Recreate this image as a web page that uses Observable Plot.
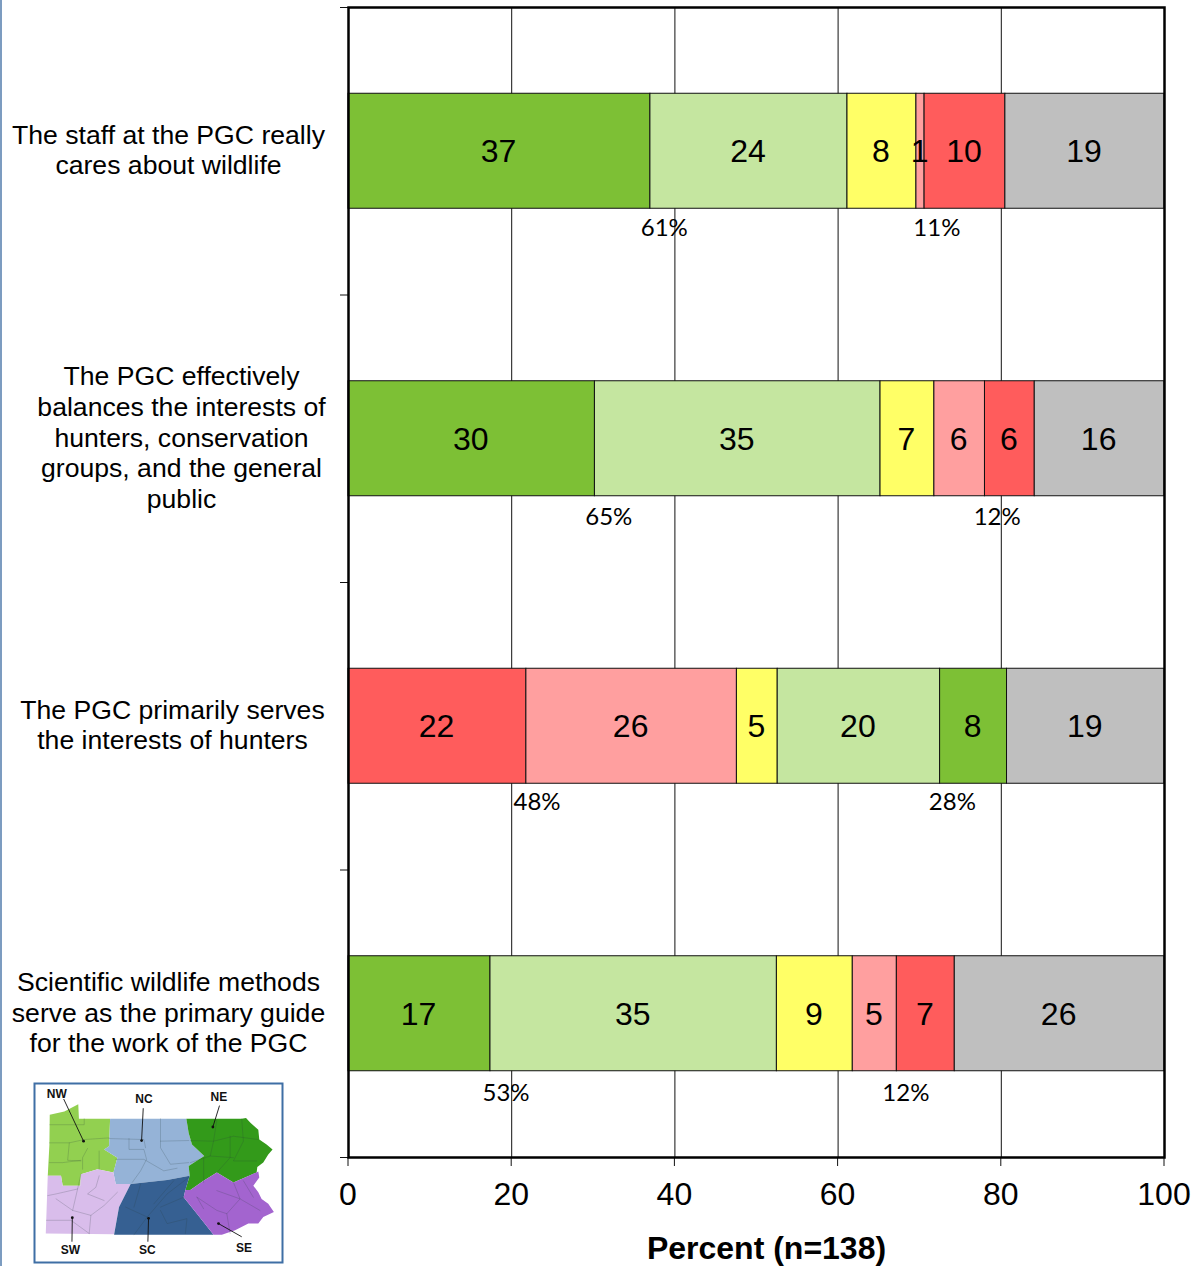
<!DOCTYPE html>
<html>
<head>
<meta charset="utf-8">
<script src="https://cdn.jsdelivr.net/npm/d3@7"></script>
<script src="https://cdn.jsdelivr.net/npm/@observablehq/plot@0.6"></script>
<style>
html,body{margin:0;padding:0;background:#fff;}
#strip{position:absolute;left:0;top:0;width:2px;height:1266px;background:#7c9cc0;}
#chart{position:absolute;left:0;top:0;}
#map{position:absolute;left:32px;top:1081px;}
svg{display:block;}
</style>
</head>
<body>
<div id="strip"></div>
<div id="chart"></div>
<div id="map"></div>
<script>
const statements = [
  "The staff at the PGC really\ncares about wildlife",
  "The PGC effectively\nbalances the interests of\nhunters, conservation\ngroups, and the general\npublic",
  "The PGC primarily serves\nthe interests of hunters",
  "Scientific wildlife methods\nserve as the primary guide\nfor the work of the PGC"
];
const statementShift = [-180, -167, -176, -180];

const responses = ["strongAgree","agree","neither","disagree","strongDisagree","unsure"];
const responseColors = ["#7dc035","#c5e6a0","#ffff66","#ff9f9f","#ff5c5c","#bfbfbf"];

const orderStaff = ["strongAgree","agree","neither","disagree","strongDisagree","unsure"];
const orderBalances = ["strongAgree","agree","neither","disagree","strongDisagree","unsure"];
const orderHunters = ["strongDisagree","disagree","neither","agree","strongAgree","unsure"];
const orderScience = ["strongAgree","agree","neither","disagree","strongDisagree","unsure"];

const widthsStaff = [37, 24.15, 8.45, 1, 9.9, 19.5];
const widthsBalances = [30.2, 35, 6.6, 6.2, 6.1, 15.9];
const widthsHunters = [21.8, 25.8, 5, 19.9, 8.2, 19.3];
const widthsScience = [17.4, 35.1, 9.3, 5.4, 7.1, 25.7];

const labelsStaff = [37, 24, 8, 1, 10, 19];
const labelsBalances = [30, 35, 7, 6, 6, 16];
const labelsHunters = [22, 26, 5, 20, 8, 19];
const labelsScience = [17, 35, 9, 5, 7, 26];

const summaryText = ["61%","11%","65%","12%","48%","28%","53%","12%"];
const summaryX = [38.7, 72.1, 31.9, 79.5, 23.1, 74, 19.3, 68.3];
const summaryY = [0.769, 0.769, 1.774, 1.774, 2.765, 2.765, 3.777, 3.777];

const xTicks = [0,20,40,60,80,100];
const gridValues = [20,40,60,80];
const yBoundaries = [0,1,2,3,4];
const xTitle = "Percent (n=138)";

// Inset map of Pennsylvania regions
const regionNames = ["NW","NC","NE","SW","SC","SE"];
const regionColors = ["#92d050","#95b3d7","#339a1a","#d9bdeb","#366092","#a364cf"];
const outlineNW = [[146,160],[190,150],[232,128],[234,172],[328,172],[325,255],[310,265],[350,290],[338,335],[290,325],[240,340],[238,375],[185,375],[180,345],[140,345],[145,250]];
const outlineNC = [[328,172],[558,172],[565,215],[575,250],[612,285],[565,315],[568,345],[500,358],[390,370],[345,370],[338,335],[350,290],[310,265],[325,255]];
const outlineNE = [[558,172],[725,172],[738,170],[752,185],[775,205],[778,235],[800,250],[818,265],[805,280],[790,305],[772,318],[770,335],[735,350],[700,365],[650,335],[610,360],[570,388],[555,388],[568,345],[565,315],[612,285],[575,250],[565,215]];
const outlineSW = [[140,345],[180,345],[185,375],[238,375],[240,340],[290,325],[338,335],[345,370],[390,370],[355,440],[340,522],[134,520]];
const outlineSC = [[390,370],[500,358],[568,345],[555,388],[550,410],[590,460],[640,524],[340,524],[355,440]];
const outlineSE = [[555,388],[570,388],[610,360],[650,335],[700,365],[735,350],[775,332],[778,350],[760,375],[775,395],[785,415],[805,430],[822,455],[790,470],[775,490],[745,490],[705,510],[665,524],[640,524],[590,460],[550,410]];
const outlines = [outlineNW,outlineNC,outlineNE,outlineSW,outlineSC,outlineSE];

const countyLines = [
  [[146,190],[250,190],[250,172]],[[145,245],[205,245],[250,235],[325,230]],[[205,245],[200,298],[240,300]],
  [[145,305],[185,305],[240,298]],[[260,262],[245,290],[245,325]],[[295,270],[295,325]],
  [[385,232],[385,265],[430,265],[438,295],[420,330],[395,365]],[[325,232],[430,235],[435,260]],[[480,172],[480,260],[510,310],[565,305]],[[480,240],[565,238]],[[345,295],[430,295],[490,330],[530,322]],
  [[570,238],[640,240],[700,225],[775,235]],[[650,175],[640,240],[630,285],[570,305]],[[725,172],[730,240],[700,300],[770,300]],[[630,285],[700,290]],[[610,290],[610,365]],[[690,225],[690,290],[650,335]],
  [[140,405],[165,400],[230,385],[240,340]],[[165,415],[215,450],[230,385]],[[215,450],[270,465],[310,435],[350,395]],[[136,480],[210,480],[265,520]],[[295,345],[285,380],[260,400],[310,420]],[[270,465],[265,520]],
  [[375,440],[440,470],[500,400],[565,350]],[[440,470],[400,524]],[[480,440],[550,410]],[[480,450],[500,490],[560,475],[555,520]],[[420,370],[400,440]],[[460,430],[520,360]],
  [[590,410],[650,450],[680,460],[690,520]],[[650,390],[720,415],[680,460]],[[590,410],[610,445]],[[700,365],[720,415],[780,450]],[[730,360],[760,410]]
];
const mapLabelNames = ["NW","NC","NE","SW","SC","SE"];
const mapLabelX = [167,430,656,208,440,732];
const mapLabelY = [97,113,106,572,572,563];
const leaderFromX = [188,428,658,213,442,725];
const leaderFromY = [112,140,132,545,545,530];
const leaderToX = [248,423,638,214,444,655];
const leaderToY = [240,238,197,472,474,490];

// Tables built from the arrays above
const questionOrders = [orderStaff,orderBalances,orderHunters,orderScience];
const questionWidths = [widthsStaff,widthsBalances,widthsHunters,widthsScience];
const questionLabels = [labelsStaff,labelsBalances,labelsHunters,labelsScience];
const segments = questionWidths.flatMap((widths,q)=>{
  const ends = d3.cumsum(widths);
  return widths.map((w,i)=>({
    response: questionOrders[q][i],
    x1: ends[i]-w,
    x2: i===widths.length-1 ? 100 : ends[i],
    y1: q+0.3,
    y2: q+0.7,
    label: questionLabels[q][i],
    yMid: q+0.5
  }));
});
const summaries = summaryText.map((t,i)=>({t,x:summaryX[i],y:summaryY[i]}));

const textFont = "'Liberation Sans', Arial, sans-serif";

const chart = Plot.plot({
  width:1196, height:1266,
  marginLeft:348, marginRight:32, marginTop:7, marginBottom:109,
  style:{fontFamily:textFont, background:"transparent", color:"#000"},
  x:{domain:[0,100]},
  y:{domain:[0,4], reverse:true},
  color:{domain:responses, range:responseColors},
  marks:[
    Plot.ruleX(gridValues,{stroke:"#111",strokeWidth:1}),
    Plot.rect(segments,{x1:"x1",x2:"x2",y1:"y1",y2:"y2",fill:"response",stroke:"#111",strokeWidth:1}),
    Plot.text(segments,{x:d=>(d.x1+d.x2)/2,y:"yMid",text:"label",fontSize:32,fill:"#000",dy:0.5,dx:-1}),
    Plot.text(summaries,{x:"x",y:"y",text:"t",fontSize:24,fill:"#000",fontFamily:"Lato, sans-serif"}),
    ...statements.map((s,i)=>Plot.text([s],{
      x:0,y:()=>i+0.5,text:d=>d,dx:statementShift[i],dy:-2,
      fontSize:26.6,lineHeight:1.155,textAnchor:"middle",lineAnchor:"middle",fill:"#000"
    })),
    Plot.axisX({ticks:xTicks,tickSize:9,tickPadding:16,fontSize:32,label:null,tickFormat:d=>String(d),stroke:"#111",dx:-0.5}),
    Plot.axisY({ticks:yBoundaries,tickSize:8,tickFormat:()=>"",label:null,stroke:"#111"}),
    Plot.frame({stroke:"#000",strokeWidth:2.5}),
    Plot.text([xTitle],{frameAnchor:"bottom",dx:10,dy:91,text:d=>d,fontSize:32,fontWeight:"bold",fill:"#000",lineAnchor:"middle"})
  ]
});
document.getElementById("chart").append(chart);

const regionRows = outlines.flatMap((pts,i)=>pts.map(([x,y])=>({region:regionNames[i],x,y})));
const countyRows = countyLines.flatMap((pts,i)=>pts.map(([x,y])=>({id:i,x,y})));
const mapLabels = mapLabelNames.map((t,i)=>({t,x:mapLabelX[i],y:mapLabelY[i]}));
const leaders = mapLabelNames.map((t,i)=>({x1:leaderFromX[i],y1:leaderFromY[i],x2:leaderToX[i],y2:leaderToY[i]}));

const map = Plot.plot({
  width:252, height:183, margin:2, axis:null,
  style:{fontFamily:textFont, background:"#fff"},
  x:{domain:[100,848]},
  y:{domain:[65,608], reverse:true},
  color:{domain:regionNames, range:regionColors},
  marks:[
    Plot.line(regionRows,{x:"x",y:"y",z:"region",fill:"region",stroke:"none"}),
    Plot.line(countyRows,{x:"x",y:"y",z:"id",stroke:"#2a3a3a",strokeWidth:0.4,strokeOpacity:0.5}),
    Plot.link(leaders,{x1:"x1",y1:"y1",x2:"x2",y2:"y2",stroke:"#111",strokeWidth:0.9}),
    Plot.dot(leaders,{x:"x2",y:"y2",r:1.4,fill:"#111"}),
    Plot.text(mapLabels,{x:"x",y:"y",text:"t",fontSize:12,fontWeight:"bold",fill:"#111"}),
    Plot.frame({stroke:"#3f6fa5",strokeWidth:2})
  ]
});
document.getElementById("map").append(map);
</script>
</body>
</html>
